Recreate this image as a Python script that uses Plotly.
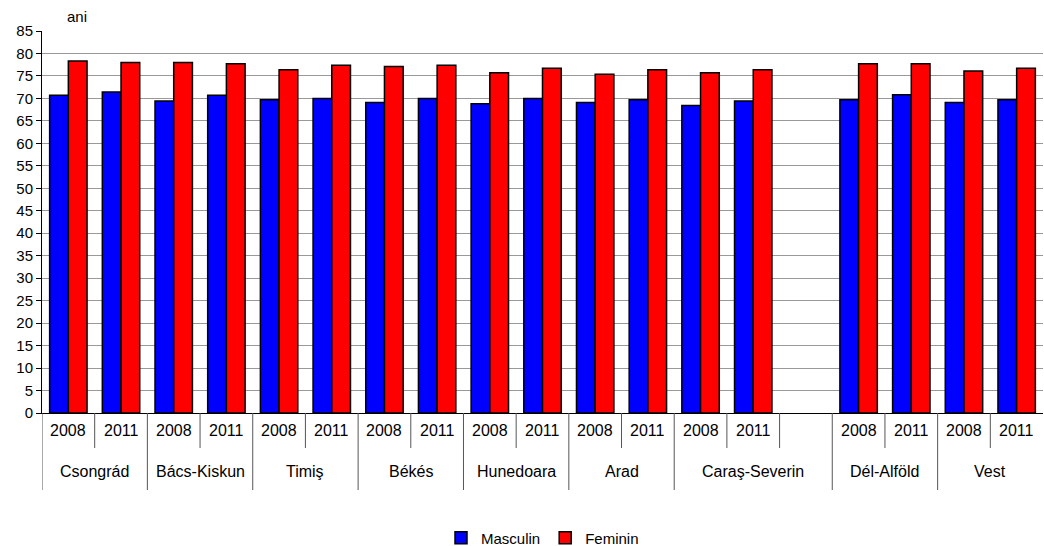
import plotly.graph_objects as go

regions = ["Csongrád", "Csongrád", "Bács-Kiskun", "Bács-Kiskun", "Timiş", "Timiş",
           "Békés", "Békés", "Hunedoara", "Hunedoara", "Arad", "Arad",
           "Caraş-Severin", "Caraş-Severin", "Caraş-Severin",
           "Dél-Alföld", "Dél-Alföld", "Vest", "Vest"]
years = ["2008", "2011", "2008", "2011", "2008", "2011",
         "2008", "2011", "2008", "2011", "2008", "2011",
         "2008", "2011", "",
         "2008", "2011", "2008", "2011"]

masculin = [70.7, 71.4, 69.4, 70.7, 69.7, 70.0,
            69.1, 70.0, 68.8, 70.0, 69.1, 69.7,
            68.4, 69.4, None,
            69.7, 70.8, 69.1, 69.7]
feminin = [78.3, 78.0, 78.0, 77.7, 76.4, 77.4,
           77.1, 77.4, 75.7, 76.7, 75.4, 76.4,
           75.7, 76.4, None,
           77.7, 77.7, 76.1, 76.7]

font = "Arial, Liberation Sans, sans-serif"
keys = [f"{r}|{y}|{i}" for i, (r, y) in enumerate(zip(regions, years))]

fig = go.Figure()
fig.add_trace(go.Bar(x=keys, y=masculin, name="Masculin",
                     marker=dict(color="#0000FF", line=dict(color="black", width=1.5))))
fig.add_trace(go.Bar(x=keys, y=feminin, name="Feminin",
                     marker=dict(color="#FF0000", line=dict(color="black", width=1.5))))

annotations = []
shapes = []
# year labels
for k, y in zip(keys, years):
    if y:
        annotations.append(dict(text=y, x=k, xref="x", y=-0.047, yref="paper",
                                yanchor="middle", showarrow=False, font=dict(size=16)))
# region groups with dividers
groups = []
for i, r in enumerate(regions):
    if groups and groups[-1][0] == r:
        groups[-1][2] = i
    else:
        groups.append([r, i, i])
for r, a, b in groups:
    annotations.append(dict(text=r, x=(a + b) / 2, xref="x", y=-0.152, yref="paper",
                            yanchor="middle", showarrow=False, font=dict(size=16)))
    shapes.append(dict(type="line", xref="x", yref="paper", x0=a - 0.5, x1=a - 0.5,
                       y0=0, y1=-0.2016, line=dict(color="#555555", width=1)))
    for j in range(a, b):
        shapes.append(dict(type="line", xref="x", yref="paper", x0=j + 0.5, x1=j + 0.5,
                           y0=0, y1=-0.0916, line=dict(color="#555555", width=1)))

annotations.append(dict(text="ani", xref="paper", yref="paper", x=0.023, y=1.037,
                        xanchor="left", yanchor="middle", showarrow=False,
                        font=dict(size=15)))

fig.update_layout(
    width=1044, height=546,
    barmode="group", bargap=0.29, bargroupgap=0,
    plot_bgcolor="white", paper_bgcolor="white",
    font=dict(family=font, size=14, color="black"),
    margin=dict(l=42, r=1, t=31, b=133, autoexpand=False),
    showlegend=True,
    legend=dict(orientation="h", x=0.5, xanchor="center", y=-0.327, yanchor="middle",
                font=dict(size=15), itemwidth=30, tracegroupgap=0),
    yaxis=dict(range=[0, 85], dtick=5, showgrid=True, gridcolor="#999999",
               showline=True, linecolor="black", linewidth=1, automargin=False,
               ticks="outside", ticklen=5, tickcolor="black", zeroline=False,
               tickfont=dict(size=15)),
    xaxis=dict(type="category", showline=True, linecolor="black", linewidth=1,
               showticklabels=False, ticks="", automargin=False,
               range=[-0.5, len(keys) - 0.5]),
    annotations=annotations,
    shapes=shapes,
)

fig.write_html("out.html", config={"displayModeBar": False},
               post_script="document.body.style.margin='0';")
